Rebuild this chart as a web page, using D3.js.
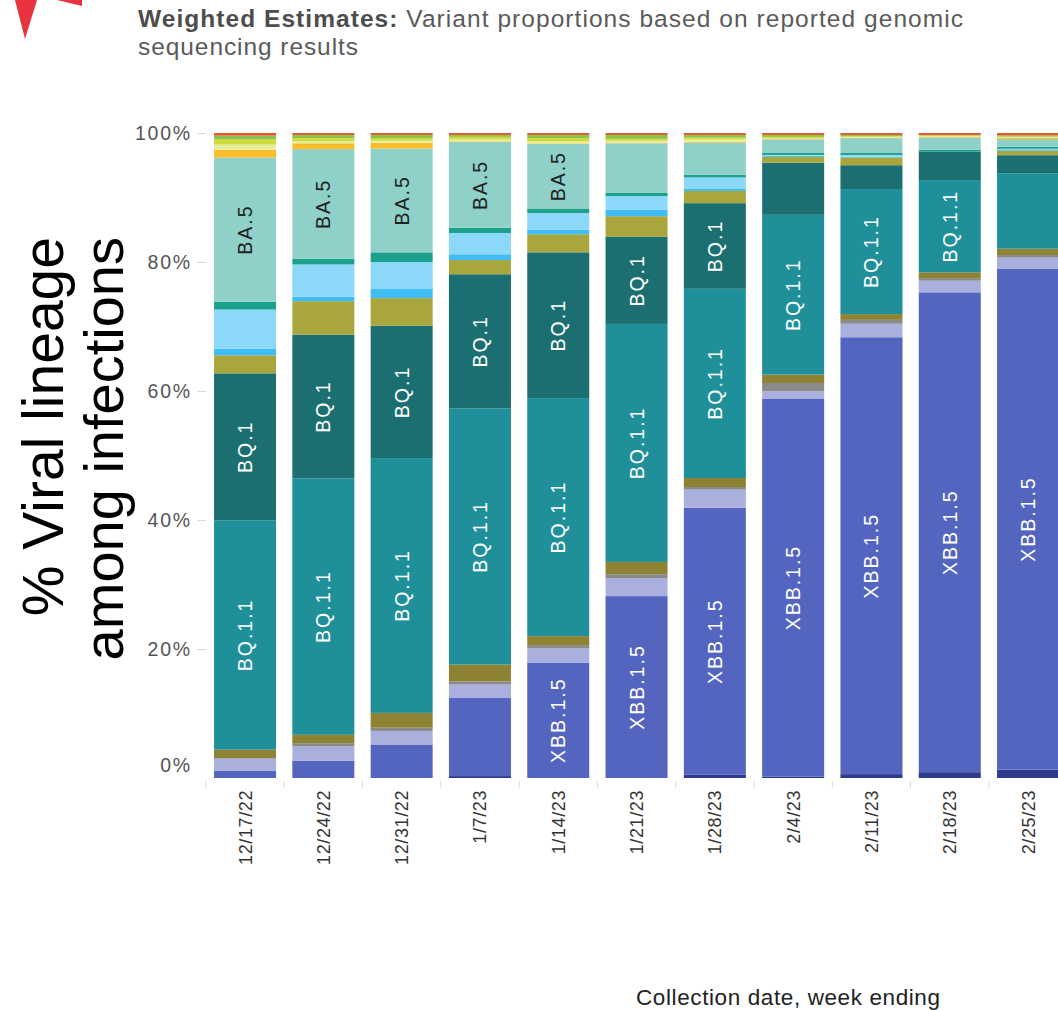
<!DOCTYPE html>
<html><head><meta charset="utf-8">
<script src="https://cdn.jsdelivr.net/npm/d3@7"></script>
<style>
body{margin:0;background:#fff;}
svg{display:block;font-family:"Liberation Sans",Arial,sans-serif;}
</style>
</head><body>
<svg id="chart" width="1058" height="1010"></svg>
<script>
// ---- data (percent of sequences, bottom of stack first) ----
const weeks = ["12/17/22","12/24/22","12/31/22","1/7/23","1/14/23","1/21/23","1/28/23","2/4/23","2/11/23","2/18/23","2/25/23"];
const lineages = ["XBB.1.5.1","XBB.1.5","XBB","CH.1.1","BN.1","BQ.1.1","BQ.1","BF.7","BA.2.75.2","BA.2.75","BA.5.2.6","BA.5","BA.4.6","BF.11","BA.2.12.1","BA.2","Other"];
const lineageColors = ["#2f3a8c","#5465bf","#a9b0de","#8a8a8a","#8e8233","#1f9099","#1c6f70","#a8a63d","#3fbdf4","#8cd8f8","#1ba08c","#8fd1c8","#fbbd2c","#e6ee9c","#cddc39","#8bc34a","#e4572e"];
const yTicks = [0, 0.2, 0.4, 0.6, 0.8, 1];

const XBB_1_5_1 = [0, 0, 0, 0.3, 0, 0, 0.5, 0.2, 0.6, 0.9, 1.3];
const XBB_1_5   = [1.1, 2.7, 5.2, 12.1, 17.9, 28.2, 41.5, 58.7, 67.8, 74.4, 77.8];
const XBB       = [1.9, 2.2, 2.1, 2.1, 2.2, 2.8, 2.8, 1.1, 2.1, 1.8, 1.7];
const CH_1_1    = [0.1, 0.5, 0.5, 0.5, 0.5, 0.6, 0.4, 1.3, 0.6, 0.4, 0.4];
const BN_1      = [1.3, 1.3, 2.3, 2.6, 1.4, 1.9, 1.4, 1.3, 0.9, 0.9, 1.0];
const BQ_1_1    = [35.6, 39.8, 39.5, 39.7, 36.9, 36.9, 29.4, 24.8, 19.4, 14.3, 11.7];
const BQ_1      = [22.8, 22.3, 20.5, 20.8, 22.6, 13.5, 13.3, 8.1, 3.7, 4.4, 2.8];
const BF_7      = [2.8, 5.2, 4.3, 2.2, 2.8, 3.2, 1.9, 0.9, 1.2, 0, 0.7];
const BA_2_75_2 = [1.0, 0.7, 1.5, 0.9, 0.7, 1.0, 0.3, 0.2, 0.1, 0, 0.2];
const BA_2_75   = [6.1, 5.0, 4.1, 3.3, 2.6, 2.1, 1.8, 0.1, 0.3, 0, 0.1];
const BA_5_2_6  = [1.2, 0.9, 1.5, 0.8, 0.7, 0.5, 0.4, 0.3, 0.3, 0.3, 0.3];
const BA_5      = [22.4, 17.0, 16.1, 13.3, 10.0, 7.7, 5.0, 2.1, 2.3, 1.9, 1.2];
const BA_4_6    = [1.2, 0.9, 0.9, 0.1, 0.1, 0.1, 0.1, 0.1, 0.1, 0.1, 0.2];
const BF_11     = [0.8, 0.3, 0.3, 0.3, 0.3, 0.3, 0.4, 0.1, 0.1, 0.1, 0.1];
const BA_2_12_1 = [0.8, 0.5, 0.4, 0.4, 0.5, 0.3, 0.3, 0.2, 0.1, 0.1, 0.1];
const BA_2      = [0.6, 0.5, 0.5, 0.3, 0.5, 0.6, 0.4, 0.3, 0.2, 0.1, 0.2];
const OTHER     = [0.4, 0.3, 0.3, 0.3, 0.3, 0.3, 0.3, 0.3, 0.3, 0.3, 0.35];

const seriesArrays = [XBB_1_5_1, XBB_1_5, XBB, CH_1_1, BN_1, BQ_1_1, BQ_1, BF_7, BA_2_75_2, BA_2_75, BA_5_2_6, BA_5, BA_4_6, BF_11, BA_2_12_1, BA_2, OTHER];

// ---- table for d3.stack ----
const rows = weeks.map((w, i) => {
  const r = {week: w};
  lineages.forEach((l, j) => r[l] = seriesArrays[j][i]);
  return r;
});

const svg = d3.select("#chart");

// decorative red mark (top-left)
svg.append("path").attr("d", "M15,0 L37,0 L25,39 Z").attr("fill", "#e8333f");
svg.append("path").attr("d", "M57,0 L82,0 L82,6 Z").attr("fill", "#e8333f");

// title
const title = svg.append("text").attr("x", 138).attr("y", 27).attr("font-size", 24.5).attr("fill", "#5a5a5a")
  .attr("textLength", 825).attr("lengthAdjust", "spacing");
title.append("tspan").attr("font-weight", "bold").attr("fill", "#4d4d4d").text("Weighted Estimates:");
title.append("tspan").text(" Variant proportions based on reported genomic");
svg.append("text").attr("x", 138).attr("y", 55).attr("font-size", 24.5).attr("fill", "#5a5a5a")
  .attr("textLength", 220).attr("lengthAdjust", "spacing").text("sequencing results");

// scales
const x = d3.scaleBand().domain(weeks).range([205.9, 1067.2]).paddingInner(0.208).paddingOuter(0.104);
const y = d3.scaleLinear().domain([0, 1]).range([778, 133]);
const color = d3.scaleOrdinal().domain(lineages).range(lineageColors);

const stacked = d3.stack().keys(lineages).offset(d3.stackOffsetExpand)(rows);

// bars
const layers = svg.append("g").selectAll("g").data(stacked).join("g").attr("fill", d => color(d.key));
layers.selectAll("rect").data(d => d.map(p => Object.assign(p, {key: d.key}))).join("rect")
  .attr("x", d => x(d.data.week))
  .attr("width", x.bandwidth())
  .attr("y", d => y(d[1]))
  .attr("height", d => Math.max(0, y(d[0]) - y(d[1])));

// in-bar labels
const labelG = svg.append("g");
stacked.forEach(layer => {
  layer.forEach(p => {
    const h = y(p[0]) - y(p[1]);
    if (h < 40) return;
    const cx = x(p.data.week) + x.bandwidth() / 2;
    const cy = (y(p[0]) + y(p[1])) / 2;
    const t = labelG.append("text")
      .attr("transform", `translate(${cx},${cy}) rotate(-90)`)
      .attr("text-anchor", "middle").attr("dy", "0.36em")
      .attr("font-size", 19.5).attr("letter-spacing", "2px")
      .attr("fill", layer.key === "BA.5" ? "#222" : "#fff")
      .text(layer.key);
    const len = t.node().getComputedTextLength();
    if (h < len + 12) t.remove();
  });
});

// y axis
const yAxis = svg.append("g").attr("transform", "translate(206,0)")
  .call(d3.axisLeft(y).tickValues(yTicks).tickFormat(d3.format(".0%")).tickSize(9).tickPadding(5));
yAxis.select(".domain").remove();
yAxis.selectAll(".tick line").attr("stroke", "#d9d9d9");
yAxis.selectAll(".tick text").attr("font-size", 19.5).attr("letter-spacing", "1.8px").attr("fill", "#555")
  .attr("font-family", "Liberation Sans, Arial, sans-serif");
yAxis.selectAll(".tick").filter(d => d === 0).select("line").remove();
yAxis.selectAll(".tick").filter(d => d === 0).select("text").attr("dy", "-0.32em");

// x axis: ticks at band boundaries + rotated labels
const step = x.step();
const gap = step * x.paddingInner();
const xAxis = svg.append("g");
xAxis.selectAll("line").data(weeks.concat(["_end"])).join("line")
  .attr("x1", (d, i) => (i < weeks.length ? x(d) : x(weeks[weeks.length - 1]) + step) - gap / 2)
  .attr("x2", (d, i) => (i < weeks.length ? x(d) : x(weeks[weeks.length - 1]) + step) - gap / 2)
  .attr("y1", 781).attr("y2", 788).attr("stroke", "#d9d9d9");
xAxis.selectAll("text").data(weeks).join("text")
  .attr("transform", d => `translate(${x(d) + x.bandwidth() / 2},790) rotate(-90)`)
  .attr("text-anchor", "end").attr("dy", "0.36em")
  .attr("font-size", 18).attr("letter-spacing", "0.6px").attr("fill", "#333")
  .text(d => d);

// axis titles
svg.append("text").attr("x", 636).attr("y", 1005).attr("font-size", 22.5).attr("fill", "#222")
  .attr("textLength", 304).attr("lengthAdjust", "spacing").text("Collection date, week ending");
svg.append("text").attr("transform", "translate(63,237) rotate(-90)").attr("text-anchor", "end")
  .attr("font-size", 57).attr("fill", "#000").text("% Viral lineage");
svg.append("text").attr("transform", "translate(123,237) rotate(-90)").attr("text-anchor", "end")
  .attr("font-size", 56).attr("fill", "#000").text("among infections");
</script>
</body></html>
